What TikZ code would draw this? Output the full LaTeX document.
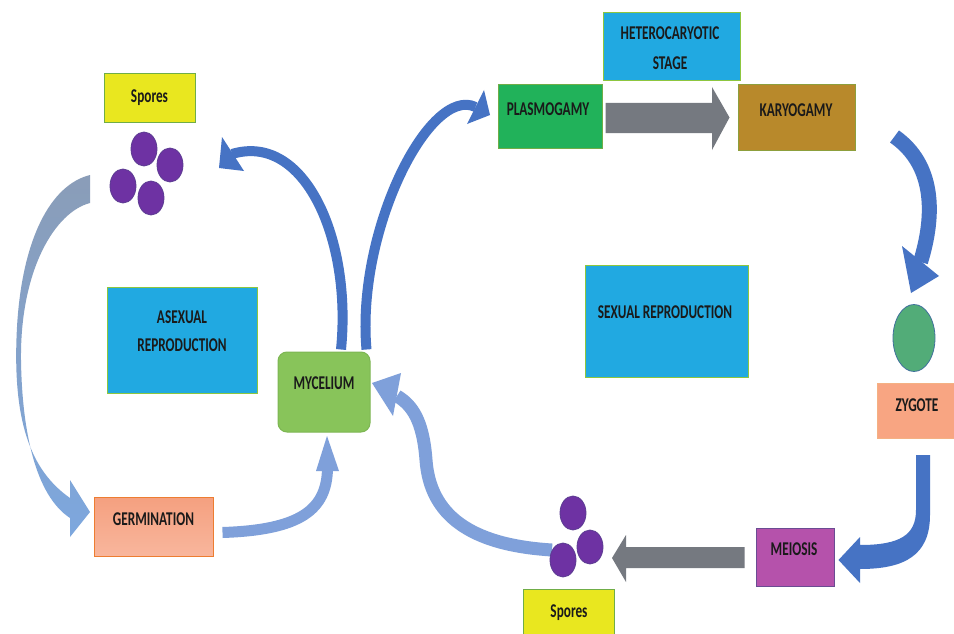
\documentclass[tikz,border=0pt]{standalone}
\usepackage{fontspec}
\setmainfont[FakeStretch=0.68]{Carlito}
\usetikzlibrary{calc,shapes.geometric}
\definecolor{arrdark}{HTML}{4673C4}
\definecolor{arrlight}{HTML}{7FA0DA}
\definecolor{grayarr}{HTML}{757980}
\definecolor{yfill}{HTML}{E9E71F}
\definecolor{gborder}{HTML}{70AD47}
\definecolor{bluefill}{HTML}{21A9E1}
\definecolor{bluebord}{HTML}{8DC63F}
\definecolor{mycfill}{HTML}{88C45A}
\definecolor{mycbord}{HTML}{7DB653}
\definecolor{germtop}{HTML}{F5A07F}
\definecolor{germbot}{HTML}{F8B69D}
\definecolor{germbord}{HTML}{ED7D31}
\definecolor{plasfill}{HTML}{21B25A}
\definecolor{karyfill}{HTML}{B8892B}
\definecolor{zygfill}{HTML}{52AC78}
\definecolor{zygbord}{HTML}{41719C}
\definecolor{zbfill}{HTML}{F8A582}
\definecolor{zbbord}{HTML}{F4B183}
\definecolor{meifill}{HTML}{B552AB}
\definecolor{meibord}{HTML}{6A4C93}
\definecolor{sporefill}{HTML}{6E32A3}
\definecolor{sporebord}{HTML}{5C3C92}
\definecolor{txt}{HTML}{1A1A1A}
\definecolor{bigtop}{HTML}{8A9DB8}
\definecolor{bigbot}{HTML}{7DA7DE}
\begin{document}
\begin{tikzpicture}[x=1pt,y=-1pt,
  box/.style={rectangle, draw, line width=1pt, inner sep=0pt},
  lbl/.style={font=\fontsize{19.5}{20}\selectfont\bfseries, text=txt, align=center, inner sep=0pt},
  spore/.style={ellipse, draw=sporebord, fill=sporefill, line width=0.8pt, minimum width=26pt, minimum height=34pt, inner sep=0pt},
  darkshaft/.style={draw=arrdark, line width=10pt},
  darkhead/.style={fill=arrdark},
  lighthead/.style={fill=arrlight},
  grayblock/.style={fill=grayarr}]
\useasboundingbox (0,0) rectangle (954,634);
\fill[white] (0,0) rectangle (954,634);
\clip (0,0) rectangle (954,634);

% ---------- boxes ----------
\node[box, draw=gborder, fill=yfill, minimum width=91pt, minimum height=48pt] (sporesA) at (149.5,98) {};
\node[lbl] (sporesAT) at (sporesA.center) {Spores};
\node[box, draw=bluebord, fill=bluefill, minimum width=150pt, minimum height=106pt] (asex) at (182,340) {};
\node[lbl] (asexT) at (182,331) {ASEXUAL\\[8pt]REPRODUCTION};
\node[box, draw=mycbord, fill=mycfill, rounded corners=9pt, minimum width=92pt, minimum height=80pt] (myc) at (324,392) {};
\node[lbl] (mycT) at (324,383) {MYCELIUM};
\node[box, draw=germbord, top color=germtop, bottom color=germbot, minimum width=119pt, minimum height=59pt] (germ) at (153.5,526.5) {};
\node[lbl] (germT) at (153.5,519) {GERMINATION};
\node[box, draw=gborder, fill=plasfill, minimum width=104pt, minimum height=63pt] (plasmo) at (550,116.5) {};
\node[lbl] (plasmoT) at (548,109) {PLASMOGAMY};
\node[box, draw=bluebord, fill=bluefill, minimum width=137pt, minimum height=68pt] (hetero) at (671.5,47) {};
\node[lbl] (heteroT) at (670,48) {HETEROCARYOTIC\\[10pt]STAGE};
\node[box, draw=gborder!60!karyfill, fill=karyfill, minimum width=117pt, minimum height=65pt] (karyo) at (796.5,117.5) {};
\node[lbl] (karyoT) at (796,110) {KARYOGAMY};
\node[box, draw=bluebord, fill=bluefill, minimum width=163pt, minimum height=112pt] (sexual) at (666.5,321) {};
\node[lbl] (sexualT) at (665,312) {SEXUAL REPRODUCTION};
\node[ellipse, draw=zygbord, fill=zygfill, line width=0.8pt, minimum width=42pt, minimum height=67pt, inner sep=0pt] (zyg) at (914,338) {};
\node[box, draw=zbbord, fill=zbfill, minimum width=79pt, minimum height=55pt] (zygbox) at (916.5,410.5) {};
\node[lbl] (zygT) at (917,405) {ZYGOTE};
\node[box, draw=meibord, fill=meifill, minimum width=78pt, minimum height=58pt] (meio) at (795,557) {};
\node[lbl] (meioT) at (794,549) {MEIOSIS};
\node[box, draw=gborder, fill=yfill, minimum width=91pt, minimum height=51pt] (sporesB) at (568.5,614.5) {};
\node[lbl] (sporesBT) at (569,613) {Spores};

% ---------- spore cluster (top) ----------
\node[spore] (a1) at (144,149) {};
\node[spore] (a2) at (170,165) {};
\node[spore] (a3) at (123,186) {};
\node[spore] (a4) at (151,198) {};

% ---------- big gradient arrow: spores -> germination ----------
\shade[top color=bigtop, bottom color=bigbot]
  (90,175) .. controls (50,185) and (22,240) .. (17,327)
  .. controls (12,420) and (30,470) .. (70,498)
  -- (70,480) -- (90,512) -- (70,537) -- (70,518)
  .. controls (35,495) and (22,430) .. (21,360)
  .. controls (20,270) and (55,212) .. (90,203) -- cycle;

% ---------- mycelium -> spores (top left) ----------
\coordinate (m1) at ($(myc.north)+(17,-2)$);
\coordinate (h1b) at (232,154);
\draw[darkshaft] (m1) .. controls (352,240) and (305,132) .. (h1b);
\fill[darkhead] (222,137) -- (219,168) -- (244,171) -- cycle;

% ---------- mycelium -> plasmogamy ----------
\coordinate (m2) at ($(myc.north east)+(-4,-2)$);
\coordinate (h2b) at (475.5,107);
\draw[darkshaft] (m2) .. controls (356,230) and (430,85) .. (h2b);
\fill[darkhead] (484,90) -- (490,115) -- (467,124) -- cycle;

% ---------- plasmogamy -> karyogamy (gray block) ----------
\fill[grayblock] ($(plasmo.east)+(3,-13.5)$) -- (712,103) -- (712,87) -- ($(karyo.west)+(-8,0)$)
  -- (712,150) -- (712,133) -- ($(plasmo.east)+(3,16.5)$) -- cycle;

% ---------- karyogamy -> zygote ----------
\coordinate (k1) at ($(karyo.east)+(39,19)$);
\coordinate (h4b) at (920.5,262);
\draw[draw=arrdark, line width=15pt] (k1) .. controls (935,165) and (935,215) .. (h4b);
\fill[darkhead] (902,246) -- (939,276) -- (911,293) -- cycle;

% ---------- zygote -> meiosis ----------
\fill[arrdark] (916,455) -- (930,455) -- (930,515)
  .. controls (930,555) and (905,569) .. (860,569)
  -- (860,583) -- ($(meio.east)+(4,3)$) -- (860,537) -- (860,545)
  .. controls (900,545) and (916,535) .. (916,510) -- cycle;

% ---------- meiosis -> spores (gray block) ----------
\fill[grayblock] ($(meio.west)+(-11,-10)$) -- (626,547) -- (626,535) -- (612,558)
  -- (626,582) -- (626,568) -- ($(meio.west)+(-11,11)$) -- cycle;

% ---------- germination -> mycelium ----------
\coordinate (g1) at ($(germ.east)+(9,6)$);
\coordinate (h8b) at (327.5,468);
\draw[draw=arrlight, line width=11pt] (g1) .. controls (300,530) and (327,510) .. (h8b);
\fill[lighthead] (316,471) -- (327,436) -- (339,471) -- cycle;

% ---------- spores (bottom) -> mycelium ----------
\coordinate (s1) at (552,550);
\coordinate (h9b) at (397,396);
\draw[draw=arrlight, line width=13pt] (s1) .. controls (470,545) and (430,515) .. (426,460)
  .. controls (423,420) and (412,405) .. (h9b);
\fill[lighthead] (401,373) -- (372,383) -- (393,416) -- cycle;

% ---------- spore cluster (bottom) ----------
\node[spore] (b1) at (573,513) {};
\node[spore] (b2) at (590,547) {};
\node[spore] (b3) at (563,560) {};
\end{tikzpicture}
\end{document}
